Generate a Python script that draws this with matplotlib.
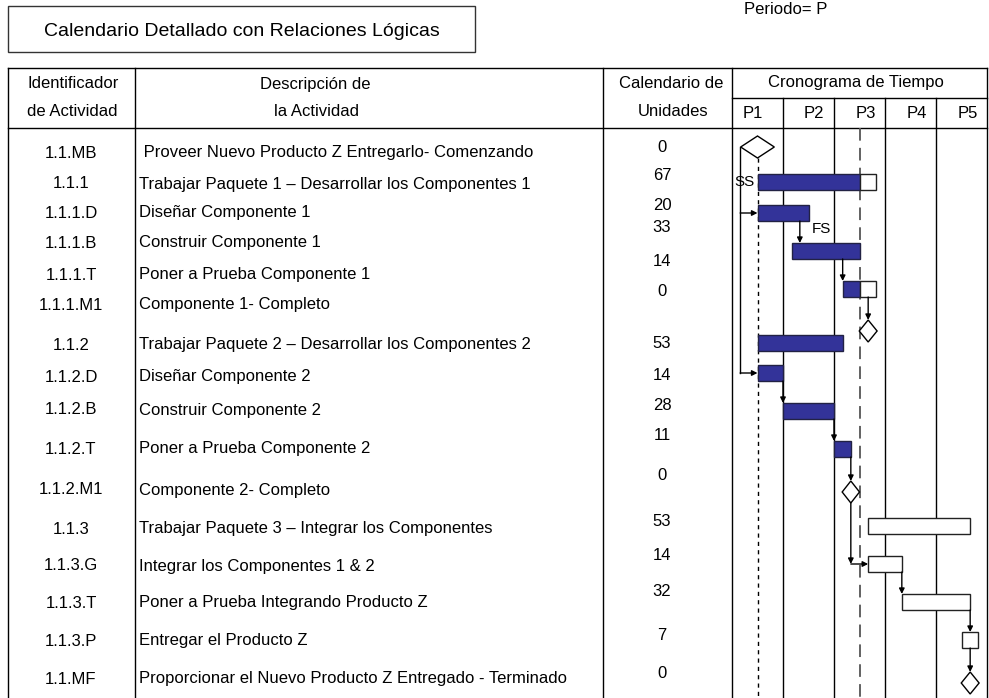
import matplotlib
matplotlib.use("Agg")
import matplotlib.pyplot as plt
from matplotlib.patches import Rectangle, Polygon

plt.rcParams["font.family"] = ["Liberation Sans", "DejaVu Sans"]

W, H = 989, 698

# ---- data ----
ids = ["1.1.MB", "1.1.1", "1.1.1.D", "1.1.1.B", "1.1.1.T", "1.1.1.M1",
       "1.1.2", "1.1.2.D", "1.1.2.B", "1.1.2.T", "1.1.2.M1",
       "1.1.3", "1.1.3.G", "1.1.3.T", "1.1.3.P", "1.1.MF"]
descs = [" Proveer Nuevo Producto Z Entregarlo- Comenzando",
         "Trabajar Paquete 1 \u2013 Desarrollar los Componentes 1",
         "Diseñar Componente 1",
         "Construir Componente 1",
         "Poner a Prueba Componente 1",
         "Componente 1- Completo",
         "Trabajar Paquete 2 \u2013 Desarrollar los Componentes 2",
         "Diseñar Componente 2",
         "Construir Componente 2",
         "Poner a Prueba Componente 2",
         "Componente 2- Completo",
         "Trabajar Paquete 3 \u2013 Integrar los Componentes",
         "Integrar los Componentes 1 & 2",
         "Poner a Prueba Integrando Producto Z",
         "Entregar el Producto Z",
         "Proporcionar el Nuevo Producto Z Entregado - Terminado"]
units = [0, 67, 20, 33, 14, 0, 53, 14, 28, 11, 0, 53, 14, 32, 7, 0]
periods = ["P1", "P2", "P3", "P4", "P5"]

# schedule in periods (None = milestone row)
bar_start = [None, 0.5, 0.5, 1.17, 2.17, None, 0.5, 0.5, 1.0, 2.0, None,
             2.67, 2.67, 3.33, 4.5, None]
bar_end = [None, 2.83, 1.5, 2.5, 2.83, None, 2.17, 1.0, 2.0, 2.33, None,
           4.67, 3.33, 4.67, 4.83, None]
milestone = [0.5, None, None, None, None, 2.67, None, None, None, None, 2.33,
             None, None, None, None, 4.67]
status_date = 2.5

# finish-to-start links: (from row, to row, x in periods)
fs_links = [(2, 3, 1.33), (3, 4, 2.17), (4, 5, 2.67), (7, 8, 1.0),
            (8, 9, 2.0), (9, 10, 2.33), (12, 13, 3.33), (13, 14, 4.67),
            (14, 15, 4.67)]

# ---- layout (pixels) ----
label_y = [153, 184, 213, 243, 275, 305, 345, 377, 410, 449, 490, 529, 566, 603, 641, 679]
unit_y = [147, 176, 205, 228, 261, 292, 344, 376, 406, 436, 476, 521, 556, 591, 635, 673]
bar_y = [147, 182, 213, 251, 289, 331, 343, 373, 411, 449, 492, 526, 564, 602, 640, 683]
dia_hw = [0.33, 0, 0, 0, 0, 0.175, 0, 0, 0, 0, 0.17, 0, 0, 0, 0, 0.175]

BLUE = "#333399"
FS = 12

fig = plt.figure(figsize=(W / 100, H / 100), dpi=100)
ax = fig.add_axes([0, 0, 1, 1])
ax.set_xlim(0, W)
ax.set_ylim(H, 0)
ax.axis("off")

x0, x1 = 732, 987
gx = fig.add_axes([x0 / W, 0, (x1 - x0) / W, 1])
gx.set_xlim(0, 5)
gx.set_ylim(H, 0)
gx.axis("off")
gx.patch.set_alpha(0)

# title box
ax.add_patch(Rectangle((8, 6), 467, 46, fill=False, ec="#333", lw=1))
ax.text(242, 31, "Calendario Detallado con Relaciones Lógicas", ha="center",
        va="center", fontsize=14)
ax.text(744, 10, "Periodo= P", ha="left", va="center", fontsize=FS)

# table grid
lk = dict(color="black", lw=1)
ax.plot([8, 987], [68, 68], **lk)
ax.plot([8, 987], [128, 128], **lk)
ax.plot([732, 987], [98, 98], **lk)
for xv in [8, 135, 603, 732, 987]:
    ax.plot([xv, xv], [68, H], **lk)
for p in range(1, 5):
    gx.plot([p, p], [98, H], **lk)

# headers
ax.text(73, 84, "Identificador", ha="center", va="center", fontsize=FS)
ax.text(72, 112, "de Actividad", ha="center", va="center", fontsize=FS)
ax.text(315, 84, "Descripción de", ha="center", va="center", fontsize=FS)
ax.text(317, 112, "la Actividad", ha="center", va="center", fontsize=FS)
ax.text(671, 83, "Calendario de", ha="center", va="center", fontsize=FS)
ax.text(673, 112, "Unidades", ha="center", va="center", fontsize=FS)
ax.text(856, 83, "Cronograma de Tiempo", ha="center", va="center", fontsize=FS)
p_off = [-0.1, 0.1, 0.12, 0.12, 0.12]
for i, lab in enumerate(periods):
    gx.text(i + 0.5 + p_off[i], 113, lab, ha="center", va="center", fontsize=FS)

# rows
for i in range(len(ids)):
    ax.text(71, label_y[i], ids[i], ha="center", va="center", fontsize=FS)
    ax.text(139, label_y[i], descs[i], ha="left", va="center", fontsize=FS)
    ax.text(662, unit_y[i], str(units[i]), ha="center", va="center", fontsize=FS)

# reference lines
gx.plot([0.5, 0.5], [158, H], color="black", lw=1, ls=(0, (3, 3)))
gx.plot([status_date, status_date], [128, H], color="#555", lw=1.3, ls=(0, (7, 4)))

# bars
BH = 16
for i in range(len(ids)):
    if bar_start[i] is None:
        continue
    s, e, y = bar_start[i], bar_end[i], bar_y[i]
    done = min(e, status_date)
    if done > s:
        gx.add_patch(Rectangle((s, y - BH / 2), done - s, BH, fc=BLUE,
                               ec="#222244", lw=1, zorder=3))
    rest = max(s, status_date)
    if e > rest:
        gx.add_patch(Rectangle((rest, y - BH / 2), e - rest, BH, fc="white",
                               ec="#222", lw=1, zorder=3))

# milestones
DH = 11
for i, m in enumerate(milestone):
    if m is None:
        continue
    y, hw = bar_y[i], dia_hw[i]
    gx.add_patch(Polygon([(m - hw, y), (m, y - DH), (m + hw, y), (m, y + DH)],
                         closed=True, fc="white", ec="black", lw=1, zorder=3))


def half(i):
    return DH if milestone[i] is not None else BH / 2


ap = dict(arrowstyle="-|>", color="black", lw=1, shrinkA=0, shrinkB=0,
          mutation_scale=8)
for a, b, xv in fs_links:
    gx.annotate("", xy=(xv, bar_y[b] - half(b)), xytext=(xv, bar_y[a] + half(a)),
                arrowprops=ap, zorder=4)

# elbow link: 1.1.2.M1 -> 1.1.3.G
gx.annotate("", xy=(2.33, bar_y[12]), xytext=(2.33, bar_y[10] + DH),
            arrowprops=ap, zorder=4)
gx.annotate("", xy=(bar_start[12], bar_y[12]), xytext=(2.33, bar_y[12]),
            arrowprops=ap, zorder=4)

# start-to-start links from 1.1.MB
ss_x = 0.16
gx.plot([ss_x, ss_x], [bar_y[0], bar_y[7]], color="black", lw=1, zorder=4)
for r in (2, 7):
    gx.annotate("", xy=(bar_start[r], bar_y[r]), xytext=(ss_x, bar_y[r]),
                arrowprops=ap, zorder=4)
gx.text(0.05, bar_y[1], "SS", ha="left", va="center", fontsize=11, zorder=5)
gx.text(1.57, 229, "FS", ha="left", va="center", fontsize=11, zorder=5)

fig.savefig("out.png", dpi=100)
